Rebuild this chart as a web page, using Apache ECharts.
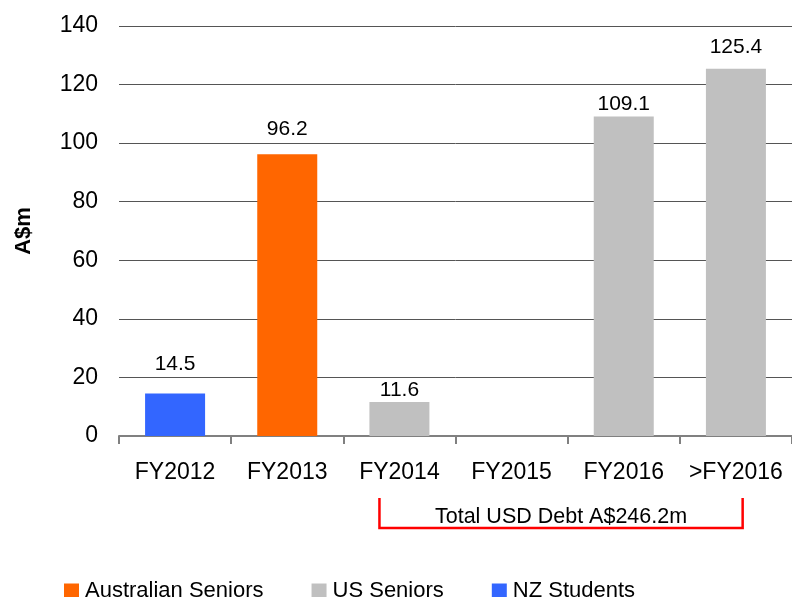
<!DOCTYPE html>
<html>
<head>
<meta charset="utf-8">
<script src="https://cdn.jsdelivr.net/npm/echarts@6/dist/echarts.min.js"></script>
<style>
html,body{margin:0;padding:0;background:#fff;}
#chart{width:792px;height:597px;}
</style>
</head>
<body>
<div id="chart"></div>
<script>
var categories = ['FY2012', 'FY2013', 'FY2014', 'FY2015', 'FY2016', '>FY2016'];
var australianSeniors = ['-', 96.2, '-', '-', '-', '-'];
var usSeniors = ['-', '-', 11.6, '-', 109.1, 125.4];
var nzStudents = [14.5, '-', '-', '-', '-', '-'];
var yTicks = [0, 20, 40, 60, 80, 100, 120, 140];
var bracketText = 'Total USD Debt A$246.2m';

// label gap (px) above each category's bar, as in the original layout
var labelGaps = [18.5, 14.5, 1.5, 0, 2, 11];

var FONT = '"Liberation Sans", Arial, sans-serif';
var chart = echarts.init(document.getElementById('chart'), null, {renderer: 'canvas'});

function mk(name, values, color) {
  return {
    name: name, type: 'bar', stack: 'all',
    data: values.map(function (v, i) {
      if (v === '-') return '-';
      return {value: v, label: {distance: labelGaps[i]}};
    }),
    barWidth: '53.5%',
    itemStyle: {color: color},
    label: {show: true, position: 'top', color: '#000', fontSize: 21, fontFamily: FONT},
    emphasis: {disabled: true}
  };
}

chart.setOption({
  animation: false,
  backgroundColor: '#fff',
  grid: {left: 119, right: 0, top: 26, bottom: 161, containLabel: false, outerBoundsMode: 'none'},
  legend: {
    left: 64, top: 580, padding: 0,
    itemWidth: 15, itemHeight: 15, itemGap: 48,
    icon: 'rect',
    textStyle: {fontSize: 22, lineHeight: 15, fontFamily: FONT, color: '#000', padding: [0, 0, 0, 1]},
    data: ['Australian Seniors', 'US Seniors', 'NZ Students']
  },
  xAxis: {
    type: 'category', data: categories,
    axisLine: {lineStyle: {color: '#808080', width: 2}},
    axisTick: {show: true, length: 8, lineStyle: {color: '#808080', width: 2}},
    axisLabel: {interval: 0, fontSize: 23, fontFamily: FONT, color: '#000', margin: 25}
  },
  yAxis: {
    type: 'value', min: yTicks[0], max: yTicks[yTicks.length - 1], interval: 20,
    name: 'A$m', nameLocation: 'middle', nameRotate: 90, nameGap: 84,
    nameTextStyle: {fontSize: 22, fontWeight: 'bold', fontFamily: FONT, color: '#000'},
    axisLine: {show: false}, axisTick: {show: false},
    splitLine: {lineStyle: {color: '#555', width: 1}},
    axisLabel: {fontSize: 23, fontFamily: FONT, color: '#000', margin: 21}
  },
  series: [
    mk('Australian Seniors', australianSeniors, '#FF6600'),
    mk('US Seniors', usSeniors, '#C0C0C0'),
    mk('NZ Students', nzStudents, '#3366FF')
  ]
});

// Bracket annotation under FY2014 .. >FY2016, positioned relative to axis
var p0 = chart.convertToPixel({xAxisIndex: 0}, categories[2]);
var p1 = chart.convertToPixel({xAxisIndex: 0}, categories[5]);
var band = chart.convertToPixel({xAxisIndex: 0}, categories[1]);
var step = p0 - band;
var xl = p0 - step * 0.178;
var xr = p1 + step * 0.06;
var yb = 528, yt = 498;
chart.setOption({
  graphic: [
    {
      type: 'polyline', silent: true,
      shape: {points: [[xl, yt], [xl, yb], [xr, yb], [xr, yt]]},
      style: {stroke: '#FF0000', lineWidth: 2.5, fill: null}
    },
    {
      type: 'text', silent: true,
      x: (xl + xr) / 2, y: 517,
      style: {text: bracketText, fontSize: 21.5, fontFamily: FONT, fill: '#000', align: 'center', verticalAlign: 'middle'}
    }
  ]
});
</script>
</body>
</html>
